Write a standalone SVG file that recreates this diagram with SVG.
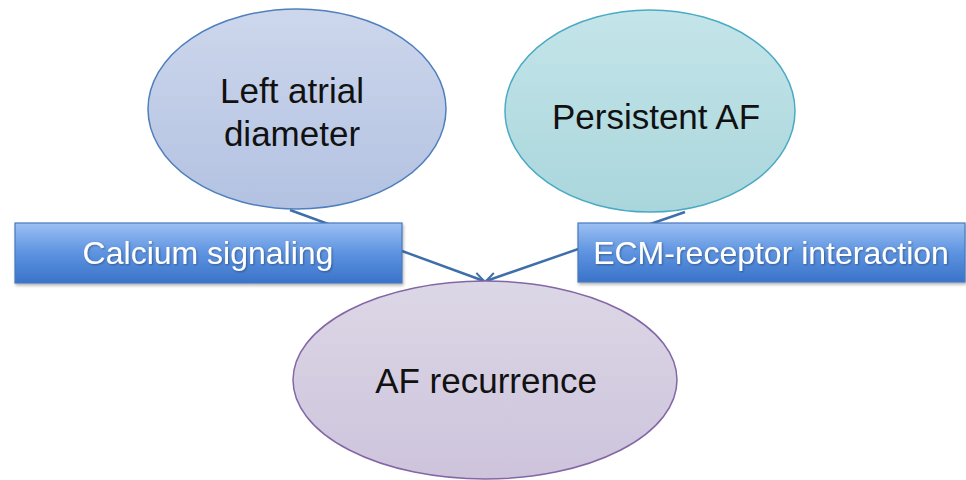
<svg xmlns="http://www.w3.org/2000/svg" width="966" height="480" viewBox="0 0 966 480">
<defs>
<linearGradient id="gBlue" x1="0" y1="0" x2="0" y2="1"><stop offset="0" stop-color="#cdd7ec"/><stop offset="1" stop-color="#b3c2e2"/></linearGradient>
<linearGradient id="gTeal" x1="0" y1="0" x2="0" y2="1"><stop offset="0" stop-color="#c4e5e9"/><stop offset="1" stop-color="#a9d6dc"/></linearGradient>
<linearGradient id="gLav" x1="0" y1="0" x2="0" y2="1"><stop offset="0" stop-color="#dcd7e6"/><stop offset="1" stop-color="#cdc4dc"/></linearGradient>
<linearGradient id="gRect" x1="0" y1="0" x2="0" y2="1"><stop offset="0" stop-color="#9cc0f4"/><stop offset="0.5" stop-color="#5d93e0"/><stop offset="1" stop-color="#3a73c9"/></linearGradient>
<filter id="sh" x="-5%" y="-10%" width="110%" height="130%"><feDropShadow dx="1" dy="2" stdDeviation="1.5" flood-color="#000" flood-opacity="0.3"/></filter>
<filter id="tsh"><feDropShadow dx="1" dy="1" stdDeviation="0.8" flood-color="#000" flood-opacity="0.35"/></filter>
<marker id="arr" viewBox="0 0 12 12" refX="11" refY="6" markerWidth="12" markerHeight="12" markerUnits="userSpaceOnUse" orient="auto"><path d="M1,1 L11,6 L1,11" fill="none" stroke="#3f6fa8" stroke-width="2"/></marker>
<style>
.etxt{font-family:"Liberation Sans",Arial,sans-serif;font-size:35px;fill:#111;text-anchor:middle}
.rtxt{font-family:"Liberation Sans",Arial,sans-serif;font-size:32px;fill:#fff;text-anchor:middle}
.conn{stroke:#3f6fa8;stroke-width:2.5;fill:none}
</style>
</defs>
<g id="connectors">
<line class="conn" x1="290" y1="210" x2="484" y2="281" marker-end="url(#arr)"/>
<line class="conn" x1="685" y1="212" x2="486" y2="281" marker-end="url(#arr)"/>
</g>
<g id="left-atrial">
<ellipse cx="297" cy="109" rx="149" ry="100" fill="url(#gBlue)" stroke="#4f7fbd" stroke-width="1.5"/>
<text class="etxt" x="292" y="103">Left atrial</text>
<text class="etxt" x="292" y="146">diameter</text>
</g>
<g id="persistent-af">
<ellipse cx="650" cy="111" rx="145" ry="101" fill="url(#gTeal)" stroke="#4aaac4" stroke-width="1.5"/>
<text class="etxt" x="656" y="129">Persistent AF</text>
</g>
<g id="af-recurrence">
<ellipse cx="485" cy="380" rx="192" ry="99" fill="url(#gLav)" stroke="#8466a6" stroke-width="1.5"/>
<text class="etxt" x="486" y="393">AF recurrence</text>
</g>
<g id="calcium">
<rect x="15" y="223" width="387" height="60" fill="url(#gRect)" stroke="#4a78bd" stroke-width="1.2" filter="url(#sh)"/>
<text class="rtxt" x="208" y="264" filter="url(#tsh)">Calcium signaling</text>
</g>
<g id="ecm">
<rect x="578" y="223" width="387" height="59" fill="url(#gRect)" stroke="#4a78bd" stroke-width="1.2" filter="url(#sh)"/>
<text class="rtxt" x="771" y="264" filter="url(#tsh)">ECM-receptor interaction</text>
</g>
</svg>
